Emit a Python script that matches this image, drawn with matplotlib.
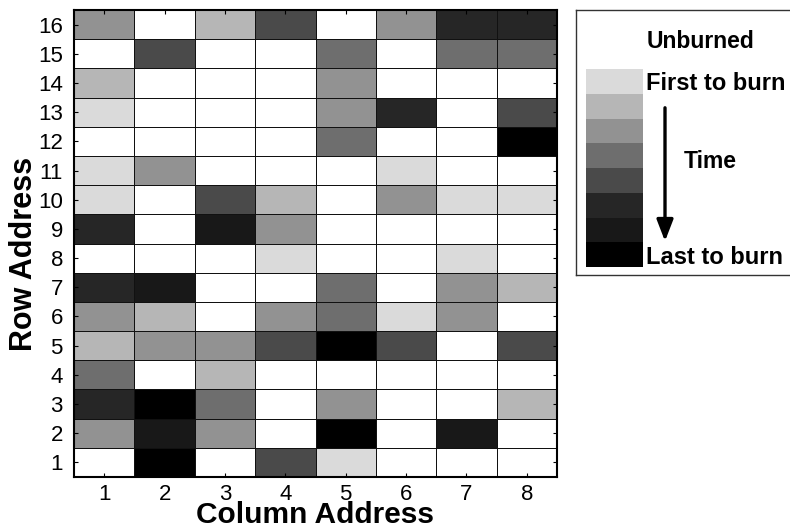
import matplotlib.pyplot as plt
import numpy as np
from matplotlib.colors import ListedColormap, BoundaryNorm
from matplotlib.patches import Rectangle

plt.rcParams['font.family'] = ['Liberation Sans', 'DejaVu Sans']

# grey shades: unburned (white) then first ... last to burn
shades = ['#FFFFFF', '#DADADA', '#B6B6B6', '#929292', '#6E6E6E',
          '#4A4A4A', '#262626', '#181818', '#000000']

columns = [1, 2, 3, 4, 5, 6, 7, 8]
rows = list(range(1, 17))

# burn order per cell, row 1 first (0 = unburned)
burn_order = [
    [0, 8, 0, 5, 1, 0, 0, 0],  # row 1
    [3, 7, 3, 0, 8, 0, 7, 0],  # row 2
    [6, 8, 4, 0, 3, 0, 0, 2],  # row 3
    [4, 0, 2, 0, 0, 0, 0, 0],  # row 4
    [2, 3, 3, 5, 8, 5, 0, 5],  # row 5
    [3, 2, 0, 3, 4, 1, 3, 0],  # row 6
    [6, 7, 0, 0, 4, 0, 3, 2],  # row 7
    [0, 0, 0, 1, 0, 0, 1, 0],  # row 8
    [6, 0, 7, 3, 0, 0, 0, 0],  # row 9
    [1, 0, 5, 2, 0, 3, 1, 1],  # row 10
    [1, 3, 0, 0, 0, 1, 0, 0],  # row 11
    [0, 0, 0, 0, 4, 0, 0, 8],  # row 12
    [1, 0, 0, 0, 3, 6, 0, 5],  # row 13
    [2, 0, 0, 0, 3, 0, 0, 0],  # row 14
    [0, 5, 0, 0, 4, 0, 4, 4],  # row 15
    [3, 0, 2, 5, 0, 3, 6, 6],  # row 16
]

W, H = 790, 529
fig = plt.figure(figsize=(W / 100, H / 100), dpi=100)

ax = fig.add_axes([74 / W, (H - 477) / H, (557 - 74) / W, (477 - 10) / H])
cmap = ListedColormap(shades)
norm = BoundaryNorm(np.arange(-0.5, len(shades) + 0.5), cmap.N)
xe = np.arange(0.5, len(columns) + 1)
ye = np.arange(0.5, len(rows) + 1)
ax.pcolormesh(xe, ye, np.array(burn_order), cmap=cmap, norm=norm,
              edgecolors='#111111', linewidth=0.6)
ax.set_xlim(0.5, len(columns) + 0.5)
ax.set_ylim(0.5, len(rows) + 0.5)
ax.set_xticks(columns)
ax.set_yticks(rows)
ax.tick_params(direction='in', length=3, width=0.8, top=True, right=True,
               labelsize=16, pad=8)
ax.tick_params(axis='x', pad=5)
for s in ax.spines.values():
    s.set_linewidth(1.5)
ax.set_xlabel('Column Address', fontsize=21.5, fontweight='bold', labelpad=-3)
ax.set_ylabel('Row Address', fontsize=22, fontweight='bold')
ax.yaxis.set_label_coords(-0.072, 0.478)

# legend panel, drawn in pixel coordinates
lg = fig.add_axes([576 / W, (H - 275) / H, (800 - 576) / W, (275 - 10) / H])
lg.set_xlim(576, 800)
lg.set_ylim(275, 10)
lg.set_xticks([])
lg.set_yticks([])
for s in lg.spines.values():
    s.set_linewidth(1.0)
    s.set_color('#333333')

sw_top, sw_h = 69, 24.75
for i, c in enumerate(shades[1:]):
    lg.add_patch(Rectangle((586, sw_top + i * sw_h), 57, sw_h, facecolor=c, edgecolor='none'))

lg.text(647, 42, 'Unburned', ha='left', va='center', fontsize=16.5, fontweight='bold')
lg.text(646, 83, 'First to burn', ha='left', va='center', fontsize=17, fontweight='bold')
lg.text(684, 162, 'Time', ha='left', va='center', fontsize=16.5, fontweight='bold')
lg.text(646, 258, 'Last to burn', ha='left', va='center', fontsize=17, fontweight='bold')
lg.annotate('', xy=(665, 244), xytext=(665, 105),
            arrowprops=dict(arrowstyle='-|>,head_length=1.3,head_width=0.5',
                            color='black', lw=2.4))

fig.savefig('out.png', dpi=100)
